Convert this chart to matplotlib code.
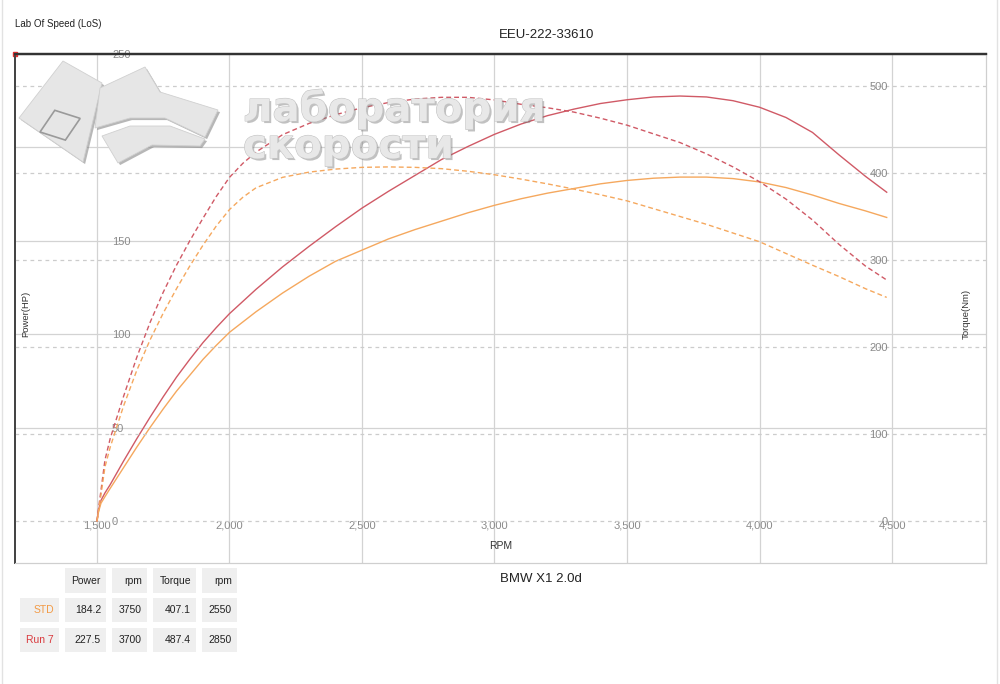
import matplotlib
matplotlib.use("Agg")
import matplotlib.pyplot as plt
import matplotlib.patheffects as pe
from matplotlib.patches import Rectangle, Polygon
from matplotlib.ticker import FuncFormatter

plt.rcParams['font.family'] = ['Liberation Sans', 'DejaVu Sans']

# ---- data ----
rpm = [1500, 1506, 1515, 1530, 1550, 1600, 1650, 1700, 1750, 1800,
       1850, 1900, 1950, 2000, 2050, 2100, 2200, 2300, 2400, 2500,
       2600, 2700, 2800, 2900, 3000, 3100, 3200, 3300, 3400, 3500,
       3600, 3700, 3800, 3900, 4000, 4100, 4200, 4300, 4400, 4480]

run7_power = [0, 6, 11, 15, 19.5, 32, 44, 55.5, 66.5, 77,
              86.5, 95.5, 103.5, 111, 117.5, 124, 136, 147, 157.5, 167.5,
              176.5, 185, 193.5, 200.5, 207, 212.5, 217, 220.5, 223.5, 225.5,
              227, 227.5, 227, 225, 221.5, 216, 208, 196, 184.5, 176]

std_power = [0, 5, 9.5, 13, 17.5, 28.5, 39.5, 50, 60, 69.5,
             78, 86.5, 94, 101, 106.5, 112, 122, 131, 139, 145,
             151, 156, 160.5, 165, 169, 172.5, 175.5, 178, 180.5, 182.3,
             183.5, 184.1, 184.1, 183.3, 181.5, 178.5, 174.5, 170, 166, 162.5]

run7_torque = [0, 15, 35, 70, 95, 143, 188, 228, 263, 294,
               322, 348, 373, 395, 411, 424, 444, 457, 467, 475,
               481, 485, 487, 487, 484, 479, 475, 470, 463, 455,
               445, 435, 422, 407, 390, 370, 346, 318, 293, 277]

std_torque = [0, 12, 30, 62, 85, 132, 173, 208, 239, 267,
              293, 317, 339, 358, 372, 383, 395, 401, 404.5, 406.5,
              407, 406.5, 405, 402, 398, 393, 387.5, 381.5, 375, 368,
              359, 350, 341, 331, 321, 307.5, 294, 281, 267, 257]

# summary table
runs = ['STD', 'Run 7']
table_cols = ['Power', 'rpm', 'Torque', 'rpm']
max_power = [184.2, 227.5]
max_power_rpm = [3750, 3700]
max_torque = [407.1, 487.4]
max_torque_rpm = [2550, 2850]

rpm_ticks = [1500, 2000, 2500, 3000, 3500, 4000, 4500]
power_ticks = [0, 50, 100, 150, 200, 250]
torque_ticks = [0, 100, 200, 300, 400, 500]

RED = '#d05a66'
ORANGE = '#f5a85e'
RED_TXT = '#d9393d'
ORANGE_TXT = '#f29a45'
W, H = 1000, 684


def fx(x):
    return x / W


def fy(y):
    return 1 - y / H


fig = plt.figure(figsize=(10, 6.84), dpi=100)
fig.patch.set_facecolor('white')

ax = fig.add_axes([fx(15), fy(563), fx(986) - fx(15), fy(54) - fy(563)])
ax2 = ax.twinx()

ax.set_xlim(1190.6, 4854.7)
ax.set_ylim(-22.5, 250)
ax2.set_ylim(-48.3, 536.8)

# grid
for r in rpm_ticks:
    ax.axvline(r, color='#d3d3d3', lw=0.9, zorder=0)
for p in power_ticks[1:]:
    ax.axhline(p, color='#d3d3d3', lw=0.9, zorder=0)
for t in torque_ticks:
    ax2.axhline(t, color='#cccccc', lw=0.9, ls=(0, (3, 3)), zorder=0)

# watermark logo
shade = [pe.SimplePatchShadow(offset=(1.5, -1.5), shadow_rgbFace='#888888', alpha=0.6), pe.Normal()]
logo_polys = [
    [(63, 61), (102, 83), (83, 162), (19, 118)],
    [(100, 88), (145, 67), (160, 92), (218, 110), (205, 137), (165, 118), (130, 118), (95, 128)],
    [(102, 136), (118, 163), (152, 145), (200, 146), (205, 139), (170, 126), (130, 126)],
]
for poly in logo_polys:
    fig.patches.append(Polygon([(fx(a), fy(b)) for a, b in poly], closed=True,
                               transform=fig.transFigure, facecolor='#e6e6e6',
                               edgecolor='#d0d0d0', lw=0.6, zorder=1,
                               path_effects=shade))
fig.patches.append(Rectangle((fx(40), fy(132)), 0.028, 0.035, angle=-25,
                             transform=fig.transFigure, facecolor='none',
                             edgecolor='#9a9a9a', lw=1.2, zorder=1))
for txt, yb in [('лаборатория', 121), ('скорости', 158)]:
    fig.text(fx(243), fy(yb), txt, fontsize=29, fontweight='bold',
             family=['DejaVu Sans'], color='#e8e8e8', va='baseline', ha='left',
             zorder=1,
             path_effects=[pe.SimplePatchShadow(offset=(1.5, -1.5), shadow_rgbFace='#777777', alpha=0.45),
                           pe.withStroke(linewidth=0.8, foreground='#c4c4c4')])

# curves
ax.plot(rpm, run7_power, color=RED, lw=1.0, zorder=5)
ax.plot(rpm, std_power, color=ORANGE, lw=1.0, zorder=5)
ax2.plot(rpm, run7_torque, color=RED, lw=1.0, ls=(0, (3.5, 2.2)), zorder=5)
ax2.plot(rpm, std_torque, color=ORANGE, lw=1.0, ls=(0, (3.5, 2.2)), zorder=5)

# ticks: labels sit inside the plot area
ax.set_xticks(rpm_ticks)
ax.xaxis.set_major_formatter(FuncFormatter(lambda v, p: f'{int(v):,}'))
ax.tick_params(axis='x', length=0, pad=-30.5, labelsize=8, labelcolor='#8a8a8a')
ax.set_yticks(power_ticks)
ax.tick_params(axis='y', length=0, pad=-69.8, labelsize=8, labelcolor='#8a8a8a')
plt.setp(ax.get_yticklabels(), ha='left')
ax2.set_yticks(torque_ticks)
ax2.tick_params(axis='y', length=0, pad=-70.6, labelsize=8, labelcolor='#8a8a8a')
plt.setp(ax2.get_yticklabels(), ha='right')

ax.set_xlabel('RPM', fontsize=7.5, color='#333333')
ax.xaxis.set_label_coords(0.5, 0.044)
ax.set_ylabel('Power(HP)', fontsize=6.8, color='#333333')
ax.yaxis.set_label_coords(0.0155, 0.49)
ax2.set_ylabel('Torque(Nm)', fontsize=6.8, color='#333333')
ax2.yaxis.set_label_coords(0.975, 0.49)

for a in (ax, ax2):
    a.spines['top'].set_color('#333333')
    a.spines['top'].set_linewidth(1.6)
    a.spines['left'].set_color('#444444')
    a.spines['left'].set_linewidth(1.3)
    a.spines['right'].set_color('#cfcfcf')
    a.spines['bottom'].set_color('#cfcfcf')
ax.plot([0], [1], marker='s', ms=2.5, color='#e03030', transform=ax.transAxes,
        clip_on=False, zorder=10)

# titles
fig.text(fx(15), fy(24), 'Lab Of Speed (LoS)', fontsize=7, color='#222222', va='center')
fig.text(fx(547), fy(35), 'EEU-222-33610', fontsize=9.5, color='#222222', va='center', ha='center')
fig.text(fx(541), fy(579), 'BMW X1 2.0d', fontsize=9.5, color='#222222', va='center', ha='center')

# page frame
fig.add_artist(plt.Line2D([fx(2), fx(2)], [0, 1], color='#e2e2e2', lw=1))
fig.add_artist(plt.Line2D([fx(997), fx(997)], [0, 1], color='#e2e2e2', lw=1))

# summary table
col_x = [(65, 106), (112, 147), (153, 196), (202, 237)]
row_y = [(598, 622), (628, 652)]
head_y = (568, 593)
cell_bg = '#efefef'


def cell(x0, x1, y0, y1, text, color='#222222'):
    fig.patches.append(Rectangle((fx(x0), fy(y1)), fx(x1) - fx(x0), fy(y0) - fy(y1),
                                 transform=fig.transFigure, facecolor=cell_bg,
                                 edgecolor='none', zorder=1))
    fig.text(fx(x1 - 5), fy((y0 + y1) / 2), text, fontsize=7.5, color=color,
             ha='right', va='center')


for (x0, x1), name in zip(col_x, table_cols):
    cell(x0, x1, head_y[0], head_y[1], name)
run_colors = [ORANGE_TXT, RED_TXT]
for i, run in enumerate(runs):
    y0, y1 = row_y[i]
    cell(20, 59, y0, y1, run, run_colors[i])
    vals = [f'{max_power[i]:.1f}', f'{max_power_rpm[i]}',
            f'{max_torque[i]:.1f}', f'{max_torque_rpm[i]}']
    for (x0, x1), v in zip(col_x, vals):
        cell(x0, x1, y0, y1, v)

fig.savefig('out.png', dpi=100)
